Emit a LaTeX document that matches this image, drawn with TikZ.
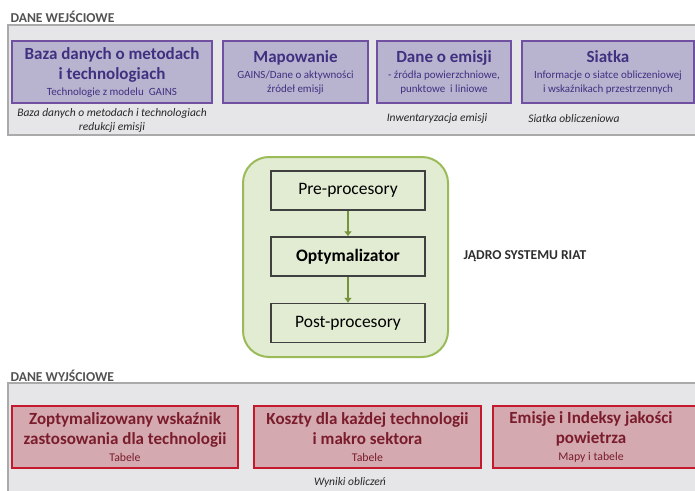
\documentclass[tikz,border=0pt]{standalone}
\usepackage{fontspec}
\setmainfont{Carlito}
\usepackage{xcolor}
\usetikzlibrary{arrows.meta}
\usetikzlibrary{math}
\definecolor{panelgray}{RGB}{230,230,232}
\definecolor{panelline}{RGB}{170,170,170}
\definecolor{inpurple}{RGB}{184,180,208}
\definecolor{inborder}{RGB}{112,80,160}
\definecolor{intext}{RGB}{64,48,128}
\definecolor{outred}{RGB}{212,170,176}
\definecolor{outborder}{RGB}{196,24,44}
\definecolor{outtext}{RGB}{122,28,44}
\definecolor{corefill}{RGB}{226,236,210}
\definecolor{coreline}{RGB}{155,187,89}
\definecolor{corearrow}{RGB}{119,147,60}
\newcommand{\boxtitle}[1]{{\bfseries #1}}
\newcommand{\boxsub}[1]{{\fontsize{11}{13}\selectfont #1}}

\begin{document}
\begin{tikzpicture}[x=1pt, y=-1pt,
  inbox/.style={draw=inborder, line width=2pt, fill=inpurple, minimum height=62pt, inner sep=0pt, align=center, text=intext, font=\fontsize{17}{20}\selectfont},
  outbox/.style={draw=outborder, line width=2pt, fill=outred, minimum height=62pt, inner sep=0pt, align=center, text=outtext, font=\fontsize{17}{20}\selectfont},
  corebox/.style={draw=black!75, line width=1.2pt, fill=corefill, minimum width=154pt, minimum height=39pt, font=\fontsize{17.5}{20}\selectfont},
  captext/.style={font=\fontsize{11.5}{14}\selectfont\itshape, align=center, text=black!85},
  paneltitle/.style={font=\fontsize{13.6}{16}\selectfont\bfseries, text=black!68, anchor=west}]
\tikzmath{
\W=695;
\H=490;
\pl=8;
}
\clip (0,0) rectangle (\W,\H);
%input panel
\node[paneltitle] (intitle) at (7,16.5) {DANE WEJŚCIOWE};
\filldraw[fill=panelgray, draw=panelline, line width=2pt] (\pl,25) rectangle (\W+10,135);
\node[inbox, minimum width=200pt] (baza) at (112,72) {\boxtitle{Baza danych o metodach}\\\boxtitle{i technologiach}\\[-4pt]\boxsub{Technologie z modelu\ \ GAINS}};
\node[inbox, minimum width=145pt] (mapa) at (295.5,72) {\boxtitle{Mapowanie}\\[-4pt]\boxsub{GAINS/Dane o aktywności}\\[-6pt]\boxsub{źródeł emisji}};
\node[inbox, minimum width=134pt] (emisja) at (444,72) {\boxtitle{Dane o emisji}\\[-4pt]\boxsub{- źródła powierzchniowe,}\\[-6pt]\boxsub{punktowe\ \ i liniowe}};
\node[inbox, minimum width=172pt] (siatka) at (608,72) {\boxtitle{Siatka}\\[-4pt]\boxsub{Informacje o siatce obliczeniowej}\\[-6pt]\boxsub{i wskaźnikach przestrzennych}};
\node[captext] (bazacap) at (112,120) {Baza danych o metodach i technologiach\\redukcji emisji};
\node[captext] (emisjacap) at (437,119) {Inwentaryzacja emisji};
\node[captext] (siatkacap) at (574,119) {Siatka obliczeniowa};

%core
\filldraw[fill=corefill, draw=coreline, line width=2pt, rounded corners=26pt] (243,157) rectangle (448,357);
\node[corebox] (pre) at (348,190.5) {Pre-procesory};
\node[corebox, font=\fontsize{17.5}{20}\selectfont\bfseries] (opt) at (348,256.5) {Optymalizator};
\node[corebox] (post) at (348,323) {Post-procesory};
\draw[-{Latex[length=5pt,width=8pt]}, corearrow, line width=2.5pt] (pre) -- (opt);
\draw[-{Latex[length=5pt,width=8pt]}, corearrow, line width=2.5pt] (opt) -- (post);
\node[paneltitle, anchor=center, text=black!82] (riat) at (525,256) {JĄDRO SYSTEMU RIAT};

%output panel
\node[paneltitle] (outtitle) at (7,376) {DANE WYJŚCIOWE};
\filldraw[fill=panelgray, draw=panelline, line width=2pt] (\pl,383) rectangle (\W+10,\H+10);
\node[outbox, minimum width=226pt] (wsk) at (125,437) {\boxtitle{Zoptymalizowany wskaźnik}\\\boxtitle{zastosowania dla technologii}\\[-3pt]\boxsub{\fontsize{11.8}{13}\selectfont Tabele}};
\node[outbox, minimum width=227pt] (koszt) at (367.5,437) {\boxtitle{Koszty dla każdej technologii}\\\boxtitle{i makro sektora}\\[-3pt]\boxsub{\fontsize{11.8}{13}\selectfont Tabele}};
\node[outbox, minimum width=214pt] (jakosc) at (600,437) {};
\node[align=center, text=outtext, font=\fontsize{17}{20}\selectfont] (jakosctxt) at (591,437) {\boxtitle{Emisje i Indeksy jakości}\\\boxtitle{powietrza}\\[-3pt]\boxsub{\fontsize{11.8}{13}\selectfont Mapy i tabele}};
\node[captext] (wynikicap) at (350,482) {Wyniki obliczeń};
\end{tikzpicture}
\end{document}
